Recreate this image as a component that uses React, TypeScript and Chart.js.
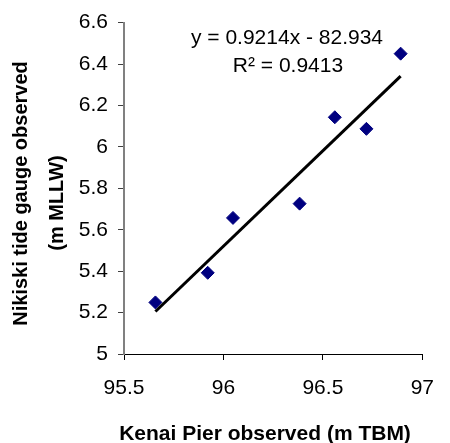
import React, { useEffect, useRef } from "react";
import { Chart, registerables } from "chart.js";

Chart.register(...registerables);

// ---- data ----
const kenaiPier: number[] = [95.658, 95.921, 96.048, 96.383, 96.56, 96.719, 96.891];
const nikiski: number[] = [5.249, 5.392, 5.657, 5.726, 6.143, 6.087, 6.45];
const trendCoefficients: number[] = [0.9214, -82.934]; // slope, intercept
const rSquared = 0.9413;
const xTicks: number[] = [95.5, 96, 96.5, 97];
const yTicks: number[] = [5, 5.2, 5.4, 5.6, 5.8, 6, 6.2, 6.4, 6.6];
const xTitle = "Kenai Pier observed (m TBM)";
const yTitleLines: string[] = ["Nikiski tide gauge observed", "(m MLLW)"];
const equationText = "y = 0.9214x - 82.934";
const rSquaredText = "R\u00B2 = " + rSquared.toFixed(4);

const FONT = "'Liberation Sans', Arial, Helvetica, sans-serif";

export default function App() {
  const canvasRef = useRef<HTMLCanvasElement | null>(null);

  useEffect(() => {
    const canvas = canvasRef.current;
    if (!canvas) return;

    const points = kenaiPier.map((x, i) => ({ x, y: nikiski[i] }));
    const xMin = Math.min(...kenaiPier);
    const xMax = Math.max(...kenaiPier);
    const [slope, intercept] = trendCoefficients;
    const trend = [
      { x: xMin, y: slope * xMin + intercept },
      { x: xMax, y: slope * xMax + intercept },
    ];

    const textPlugin = {
      id: "texts",
      afterDraw(chart: any) {
        const ctx: CanvasRenderingContext2D = chart.ctx;
        ctx.save();
        ctx.fillStyle = "#000";
        ctx.textBaseline = "alphabetic";
        ctx.textAlign = "center";
        // equation
        ctx.font = `21px ${FONT}`;
        ctx.fillText(equationText, 287, 43.5);
        ctx.fillText(rSquaredText, 288, 71.5);
        // x title
        ctx.font = `bold 21px ${FONT}`;
        ctx.fillText(xTitle, 265, 440);
        // y title
        ctx.font = `bold 20px ${FONT}`;
        ctx.save();
        ctx.translate(27.3, 193.5);
        ctx.rotate(-Math.PI / 2);
        ctx.fillText(yTitleLines[0], 0, 0);
        ctx.restore();
        ctx.save();
        ctx.translate(63.3, 203);
        ctx.rotate(-Math.PI / 2);
        ctx.fillText(yTitleLines[1], 0, 0);
        ctx.restore();
        ctx.restore();
      },
    };

    const chart = new Chart(canvas, {
      type: "scatter",
      data: {
        datasets: [
          {
            label: "Trend",
            data: trend,
            showLine: true,
            borderColor: "#000",
            borderWidth: 3,
            pointRadius: 0,
            fill: false,
          },
          {
            label: "Observed",
            data: points,
            pointStyle: "rectRot",
            pointRadius: 6.5,
            backgroundColor: "#000080",
            borderColor: "#000080",
            borderWidth: 1,
          },
        ],
      },
      options: {
        responsive: false,
        animation: false,
        devicePixelRatio: 1,
        layout: { padding: { left: 0, right: 21, top: 19, bottom: 0 } },
        plugins: {
          legend: { display: false },
          tooltip: { enabled: false },
        },
        scales: {
          x: {
            type: "linear",
            min: xTicks[0],
            max: xTicks[xTicks.length - 1],
            afterBuildTicks: (scale: any) => {
              scale.ticks = xTicks.map((v) => ({ value: v }));
            },
            afterFit: (scale: any) => {
              scale.height = 89;
            },
            ticks: {
              color: "#000",
              font: { family: FONT, size: 21 },
              padding: 16,
              maxRotation: 0,
              callback: (v: any) => String(v),
            },
            grid: {
              display: true,
              drawOnChartArea: false,
              drawTicks: true,
              tickLength: 6,
              color: "#000",
            },
            border: { display: true, color: "#000", width: 1 },
          },
          y: {
            type: "linear",
            min: yTicks[0],
            max: yTicks[yTicks.length - 1],
            afterBuildTicks: (scale: any) => {
              scale.ticks = yTicks.map((v) => ({ value: v }));
            },
            afterFit: (scale: any) => {
              scale.width = 124;
            },
            ticks: {
              color: "#000",
              font: { family: FONT, size: 21 },
              padding: 10,
              callback: (v: any) => String(Number(Number(v).toFixed(1))),
            },
            grid: {
              display: true,
              drawOnChartArea: false,
              drawTicks: true,
              tickLength: 6,
              color: "#404040",
            },
            border: { display: true, color: "#808080", width: 2 },
          },
        },
      },
      plugins: [textPlugin],
    });

    return () => chart.destroy();
  }, []);

  return (
    <div style={{ position: "fixed", left: 0, top: 0, width: 450, height: 443, background: "#fff" }}>
      <canvas ref={canvasRef} width={450} height={443} style={{ display: "block" }} />
    </div>
  );
}
